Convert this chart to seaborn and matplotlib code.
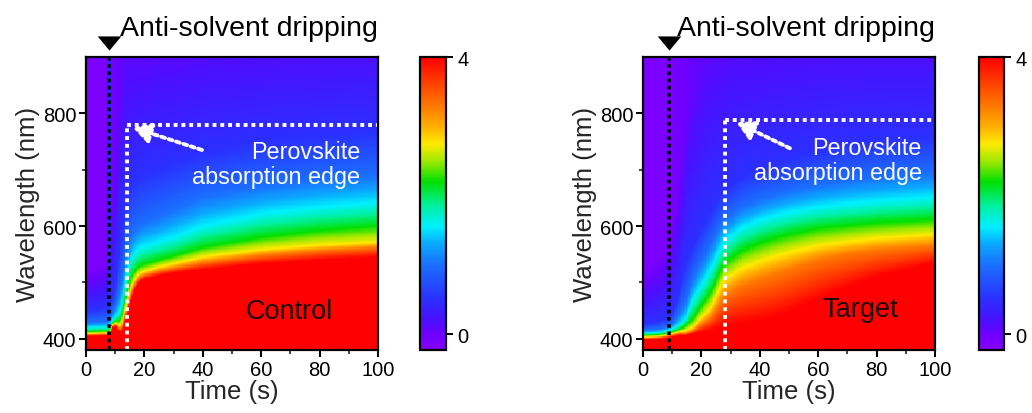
import numpy as np
import pandas as pd
import matplotlib
matplotlib.use("Agg")
import matplotlib.pyplot as plt
import seaborn as sns
from matplotlib.colors import LinearSegmentedColormap

# ---------------- data ----------------
# absorbance value attached to each read contour line
levels = [4.0, 3.3, 2.75, 2.2, 1.55, 1.0, 0.5]

# Control panel: time knots (s) and wavelength (nm) of each contour
ctrl_t    = [0, 7, 7.5, 8, 8.5, 9, 10, 11, 12, 13, 14, 15, 16, 18, 20, 25, 30, 40, 60, 80, 100]
ctrl_l400 = [404, 405, 405, 408, 412, 418, 423, 415, 411, 425, 440, 460, 480, 500, 506, 512, 517, 523, 533, 540, 545]
ctrl_l330 = [407, 408, 408, 411, 415, 421, 426, 419, 418, 435, 452, 472, 490, 508, 513, 520, 525, 535, 548, 556, 562]
ctrl_l275 = [409, 410, 410, 413, 417, 423, 428, 423, 425, 445, 462, 482, 500, 515, 519, 527, 533, 545, 558, 566, 571]
ctrl_l220 = [413, 414, 414, 416, 420, 426, 432, 430, 438, 460, 478, 500, 515, 528, 532, 540, 547, 562, 580, 592, 600]
ctrl_l155 = [420, 421, 421, 423, 427, 432, 440, 445, 458, 490, 515, 535, 548, 560, 565, 572, 580, 600, 622, 634, 642]
ctrl_l100 = [428, 430, 432, 434, 438, 445, 455, 475, 500, 530, 555, 575, 588, 598, 605, 615, 628, 650, 670, 682, 690]
ctrl_l050 = [450, 455, 458, 460, 465, 470, 490, 540, 580, 620, 645, 665, 678, 688, 695, 702, 712, 730, 750, 760, 770]
ctrl_ltop = [520, 530, 540, 880, 600, 620, 700, 800, 850, 880, 900, 900, 900, 900, 900, 900, 900, 900, 900, 900, 900]
ctrl_top  = [-0.12, -0.12, -0.1, 0.9, -0.05, -0.05, 0.0, 0.05, 0.08, 0.1, 0.1, 0.1, 0.1, 0.1, 0.1, 0.12, 0.12, 0.15, 0.17, 0.19, 0.2]

# Target panel
targ_t    = [0, 5, 8, 10, 12, 13, 14, 15, 17, 20, 23, 26, 28, 30, 34, 40, 46, 50, 60, 70, 80, 100]
targ_l400 = [399, 400, 401, 403, 405, 406, 405, 406, 409, 412, 415, 420, 423, 425, 428, 432, 440, 448, 470, 492, 510, 535]
targ_l330 = [401, 402, 404, 406, 409, 410, 409, 410, 414, 425, 436, 458, 476, 482, 494, 505, 515, 522, 540, 550, 557, 565]
targ_l275 = [403, 404, 406, 409, 412, 413, 413, 415, 420, 437, 453, 485, 506, 512, 525, 537, 547, 553, 565, 572, 578, 585]
targ_l220 = [406, 407, 409, 412, 416, 418, 420, 425, 435, 458, 482, 515, 535, 542, 557, 570, 580, 585, 596, 601, 606, 612]
targ_l155 = [410, 411, 414, 418, 424, 428, 432, 440, 470, 495, 523, 555, 576, 582, 598, 611, 620, 625, 634, 640, 645, 652]
targ_l100 = [415, 417, 420, 425, 440, 450, 458, 470, 506, 535, 565, 595, 611, 617, 633, 646, 655, 661, 672, 680, 686, 694]
targ_l050 = [425, 430, 435, 445, 475, 500, 520, 540, 565, 595, 623, 650, 664, 672, 687, 701, 711, 718, 734, 745, 752, 760]
targ_ltop = [520, 540, 560, 600, 650, 700, 750, 800, 840, 880, 900, 900, 900, 900, 900, 900, 900, 900, 900, 900, 900, 900]
targ_top  = [-0.12, -0.12, -0.1, -0.08, -0.05, -0.03, 0.0, 0.02, 0.05, 0.08, 0.1, 0.12, 0.13, 0.14, 0.15, 0.16, 0.17, 0.18, 0.19, 0.195, 0.2, 0.2]

# annotation values
ctrl_drip, targ_drip = 7.9, 8.9          # s
ctrl_edge_t, ctrl_edge_l = 14.0, 779     # s, nm
targ_edge_t, targ_edge_l = 28.1, 788
panel_names = ["Control", "Target"]
x_ticks = [0, 20, 40, 60, 80, 100]
y_ticks = [400, 600, 800]
cbar_ticks = [0, 4]

# ---------------- build the fields ----------------
T_MIN, T_MAX, T_STEP = 0.0, 100.0, 0.5
L_MIN, L_MAX, L_STEP = 380.0, 900.0, 2.0
t_c = np.arange(T_MIN + T_STEP / 2, T_MAX, T_STEP)
l_c = np.arange(L_MAX - L_STEP / 2, L_MIN, -L_STEP)   # top row = long wavelength
NT, NL = len(t_c), len(l_c)


def field(t_k, contours, ltop, top):
    Z = np.zeros((NL, NT))
    for j, t in enumerate(t_c):
        lam = [L_MIN - 1] + [np.interp(t, t_k, c) for c in contours] + [np.interp(t, t_k, ltop), L_MAX + 1]
        topv = np.interp(t, t_k, top)
        val = [levels[0]] + list(levels) + [topv, topv]
        Z[:, j] = np.interp(l_c, lam, val)
    return pd.DataFrame(Z, index=np.round(l_c, 1), columns=np.round(t_c, 2))


Zc = field(ctrl_t, [ctrl_l400, ctrl_l330, ctrl_l275, ctrl_l220, ctrl_l155, ctrl_l100, ctrl_l050], ctrl_ltop, ctrl_top)
Zt = field(targ_t, [targ_l400, targ_l330, targ_l275, targ_l220, targ_l155, targ_l100, targ_l050], targ_ltop, targ_top)


def X(t):
    return (np.asarray(t, float) - T_MIN) / (T_MAX - T_MIN) * NT


def Y(l):
    return (L_MAX - np.asarray(l, float)) / (L_MAX - L_MIN) * NL


# ---------------- colormap ----------------
VMIN, VMAX = -0.23, 4.0
cm_vals = [-0.23, 0.0, 0.2, 0.5, 1.0, 1.3, 1.55, 1.85, 2.2, 2.5, 2.75, 3.0, 3.3, 3.65, 4.0]
cm_cols = ["#8800ff", "#6c00ff", "#4a10ff", "#2a30ff", "#1a70ff", "#0aa8ff", "#00f0ff", "#00f0a0",
           "#00e000", "#a0e800", "#ffea00", "#ffb000", "#ff7800", "#ff3c00", "#ff0000"]
cmap = LinearSegmentedColormap.from_list(
    "origin_rainbow", [((v - VMIN) / (VMAX - VMIN), c) for v, c in zip(cm_vals, cm_cols)])

# ---------------- figure ----------------
sns.set_theme(style="ticks")
plt.rcParams["font.family"] = ["Liberation Sans", "DejaVu Sans"]

fig = plt.figure(figsize=(10.32, 4.14), dpi=100)
W, H = 1032, 414
def rect(x0, y0, x1, y1):
    return [x0 / W, 1 - y1 / H, (x1 - x0) / W, (y1 - y0) / H]

panels = [
    dict(Z=Zc, ax=rect(86, 58, 378, 351), cax=rect(420, 58, 446, 351), name="Control",
         drip=ctrl_drip, et=ctrl_edge_t, el=ctrl_edge_l,
         arrow_from=(39.7, 735), arrow_to=(16.0, 775), txt=(93.8, 710), name_xy=(69.5, 449)),
    dict(Z=Zt, ax=rect(643, 58, 935, 351), cax=rect(979, 58, 1004, 351), name="Target",
         drip=targ_drip, et=targ_edge_t, el=targ_edge_l,
         arrow_from=(50.3, 738), arrow_to=(32.0, 784), txt=(95.5, 717), name_xy=(74.5, 453)),
]

tri = [(-1.0, 0.6), (1.0, 0.6), (0.0, -0.6), (-1.0, 0.6)]

for p in panels:
    ax = fig.add_axes(p["ax"])
    cax = fig.add_axes(p["cax"])
    sns.heatmap(p["Z"], ax=ax, cbar_ax=cax, cmap=cmap, vmin=VMIN, vmax=VMAX,
                xticklabels=False, yticklabels=False, rasterized=True)
    ax.set_xlim(0, NT)
    ax.set_ylim(NL, 0)
    for s in ax.spines.values():
        s.set_visible(True)
        s.set_linewidth(1.6)
        s.set_color("black")
    ax.set_xticks(X(x_ticks))
    ax.set_xticklabels([str(v) for v in x_ticks])
    ax.set_xticks(X([10, 30, 50, 70, 90]), minor=True)
    ax.set_yticks(Y(y_ticks))
    ax.set_yticklabels([str(v) for v in y_ticks])
    ax.set_yticks(Y([500, 700]), minor=True)
    ax.tick_params(axis="both", which="major", direction="out", length=5, width=1.4,
                   labelsize=14.5, colors="black", bottom=True, left=True, pad=2)
    ax.tick_params(axis="both", which="minor", direction="out", length=3, width=1.2,
                   bottom=True, left=True)
    ax.tick_params(axis="y", labelrotation=0)
    ax.set_xlabel("Time (s)", fontsize=18.5, labelpad=0)
    ax.set_ylabel("Wavelength (nm)", fontsize=18.5, labelpad=2)

    # dripping line + marker
    ax.plot([X(p["drip"])] * 2, [0, NL], color="black", lw=2.6, ls=(0, (1, 1)))
    ax.plot([X(p["drip"])], [-0.048 * NL], marker=tri, ms=17, color="black",
            clip_on=False, mec="black", mew=0)
    ax.text(1.0, 1.075, "Anti-solvent dripping", transform=ax.transAxes, ha="right",
            va="baseline", fontsize=20.5, color="black")

    # absorption edge guide lines
    ax.plot([X(p["et"])] * 2, [NL, Y(p["el"])], color="white", lw=2.8, ls=(0, (1, 1)))
    ax.plot([X(p["et"]), NT + 1], [Y(p["el"])] * 2, color="white", lw=2.8, ls=(0, (1, 1)),
            clip_on=False)
    ax.annotate("", xy=(X(p["arrow_to"][0]), Y(p["arrow_to"][1])),
                xytext=(X(p["arrow_from"][0]), Y(p["arrow_from"][1])),
                arrowprops=dict(arrowstyle="-|>,head_length=0.9,head_width=0.5", lw=2.8,
                                ls=(0, (1, 1)), color="white", shrinkA=0, shrinkB=0))
    ax.text(X(p["txt"][0]), Y(p["txt"][1]), "Perovskite\nabsorption edge", ha="right",
            va="center", multialignment="right", color="white", fontsize=16.8, linespacing=1.1)
    ax.text(X(p["name_xy"][0]), Y(p["name_xy"][1]), p["name"], ha="center", va="center",
            color="#1a0505", fontsize=19.5)

    cb = ax.collections[0].colorbar
    cb.set_ticks(cbar_ticks)
    cb.set_ticklabels([str(v) for v in cbar_ticks])
    cb.outline.set_linewidth(1.6)
    cb.outline.set_edgecolor("black")
    cax.tick_params(direction="out", length=5, width=1.4, labelsize=14.5, colors="black", pad=3)

fig.savefig("out.png", dpi=100)
